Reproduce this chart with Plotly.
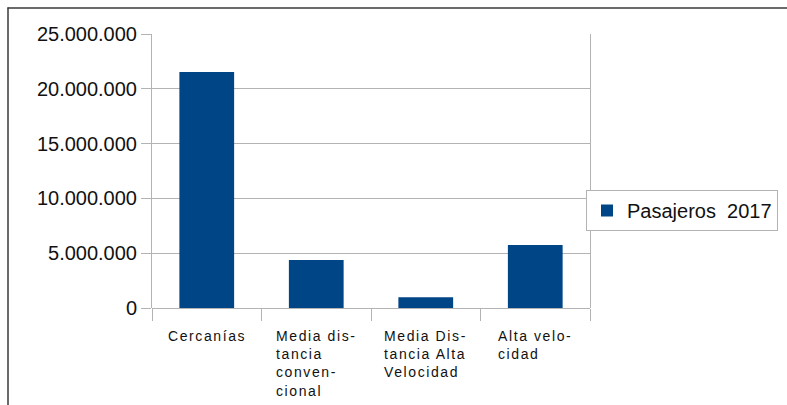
import plotly.graph_objects as go

categories = ["Cercanías", "Media distancia convencional", "Media Distancia Alta Velocidad", "Alta velocidad"]
category_labels = ["Cercanías", "Media dis-<br>tancia<br>conven-<br>cional", "Media Dis-<br>tancia Alta<br>Velocidad", "Alta velo-<br>cidad"]
pasajeros_2017 = [21540000, 4390000, 980000, 5740000]
series_name = "Pasajeros\u00a0\u00a02017"
y_ticks = [0, 5000000, 10000000, 15000000, 20000000, 25000000]

BAR = "#004586"
GRID = "#b3b3b3"
TXT = "#111111"
FONT = "Liberation Sans, Arial, sans-serif"

W, H = 787, 405
ml, mr, mt, mb = 152, 197, 34, 97
pw, ph = W - ml - mr, H - mt - mb

idx = list(range(len(categories)))

fig = go.Figure()
fig.add_trace(go.Bar(
    x=idx, y=pasajeros_2017, name=series_name, marker_color=BAR,
    marker_line_width=0, width=0.5, showlegend=True,
    hovertext=categories,
))
# invisible trace to drive the secondary x axis (category boundary ticks)
fig.add_trace(go.Scatter(x=[-0.5, 3.5], y=[0, 0], xaxis="x2", mode="none",
                         showlegend=False, hoverinfo="skip"))

fig.update_layout(
    width=W, height=H,
    margin=dict(l=ml, r=mr, t=mt, b=mb, pad=0, autoexpand=False),
    paper_bgcolor="white", plot_bgcolor="white",
    separators=",.",
    font=dict(family=FONT, color=TXT, size=20),
    showlegend=True,
    legend=dict(
        x=(586 - ml) / pw, y=1 - (190 - mt) / ph, xanchor="left", yanchor="top",
        bordercolor=GRID, borderwidth=1, bgcolor="white",
        font=dict(family=FONT, size=20, color=TXT),
        itemwidth=30,
    ),
    bargap=0.5,
    xaxis=dict(
        range=[-0.5, 3.5], tickvals=idx, ticktext=["" for _ in idx],
        showgrid=False, zeroline=False, showline=False, ticks="",
        fixedrange=True,
    ),
    xaxis2=dict(
        overlaying="x", side="bottom", range=[-0.5, 3.5],
        tickvals=[-0.5, 0.5, 1.5, 2.5, 3.5], ticktext=["", "", "", "", ""],
        ticks="outside", ticklen=12, tickcolor=GRID, tickwidth=1,
        showgrid=False, zeroline=False, showline=False, anchor="y",
        fixedrange=True,
    ),
    yaxis=dict(
        range=[0, 25000000], tickvals=y_ticks, tickformat=",d",
        showgrid=True, gridcolor=GRID, gridwidth=1,
        zeroline=True, zerolinecolor=GRID, zerolinewidth=1,
        showline=True, linecolor=GRID, linewidth=1, mirror=True,
        ticks="outside", ticklen=10, tickcolor=GRID,
        tickfont=dict(family=FONT, size=20, color=TXT),
        fixedrange=True,
    ),
)

for i, lab in zip(idx, category_labels):
    fig.add_annotation(
        x=i, xref="x", y=-(326 - mt - ph) / ph, yref="paper",
        text='<span style="letter-spacing:1.6px">' + lab + "</span>",
        showarrow=False, xanchor="center", yanchor="top", align="left",
        font=dict(family=FONT, size=14, color=TXT),
    )

# outer dark frame lines (top and left)
def px_x(p):
    return (p - ml) / pw

def px_y(p):
    return 1 - (p - mt) / ph

fig.add_shape(type="line", xref="paper", yref="paper",
              x0=px_x(7.5), x1=px_x(787), y0=px_y(8), y1=px_y(8),
              line=dict(color="#3a3a3a", width=1.5))
fig.add_shape(type="line", xref="paper", yref="paper",
              x0=px_x(8), x1=px_x(8), y0=px_y(7.5), y1=px_y(405),
              line=dict(color="#3a3a3a", width=1.5))

fig.write_html(
    "out.html",
    config={"displayModeBar": False},
    post_script="document.body.style.margin='0';document.body.style.overflow='hidden';",
)
